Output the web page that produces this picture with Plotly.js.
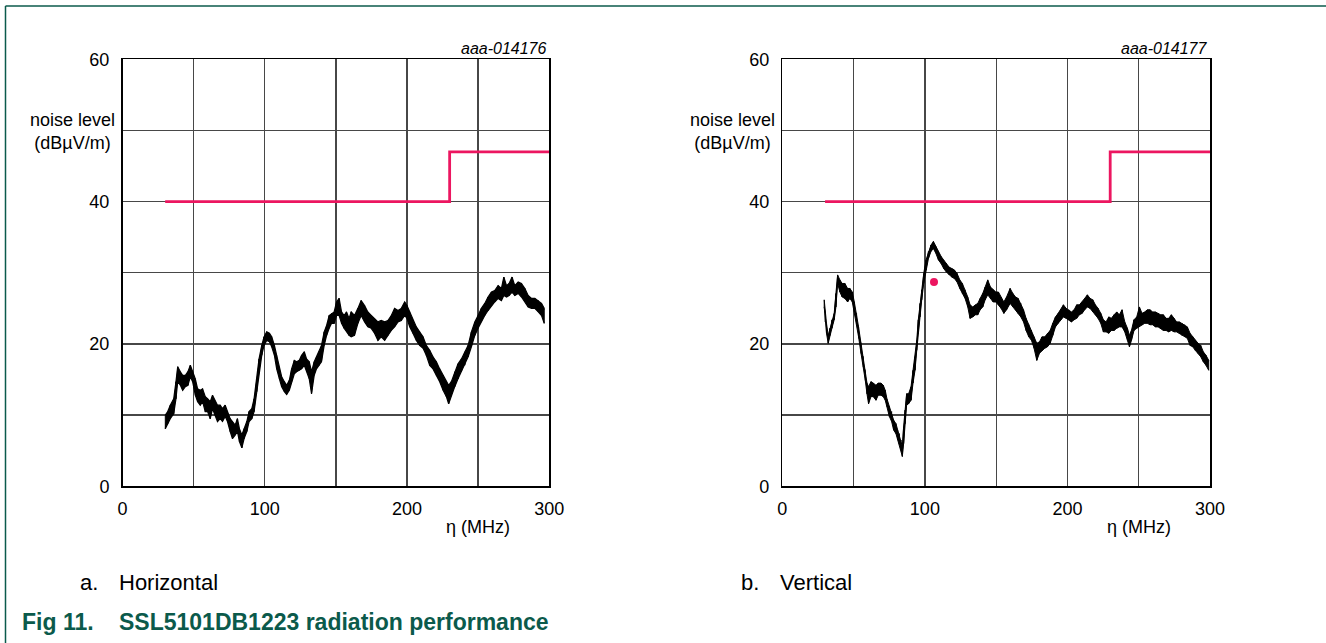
<!DOCTYPE html>
<html>
<head>
<meta charset="utf-8">
<script src="https://cdn.plot.ly/plotly-3.0.1.min.js"></script>
<style>
  html, body { margin: 0; padding: 0; background: #ffffff; }
  #chart { width: 1326px; height: 643px; }
</style>
</head>
<body>
<div id="chart"></div>
<script>
// ---------- data ----------
const xTickVals = [0, 50, 100, 150, 200, 250, 300];
const xTickText = ['0', '', '100', '', '200', '', '300'];
const yTickVals = [0, 10, 20, 30, 40, 50, 60];
const yTickText = ['0', '', '20', '', '40', '', '60'];

// CISPR limit line (dBuV/m)
const limitFreq = [30, 230, 230, 300];
const limitLevel = [40, 40, 47, 47];

// a. Horizontal: read noise band (upper / lower edge of the trace)
const hFreq = [30.1,31.8,33.6,36.0,37.6,38.8,40.7,42.3,44.2,46.0,47.7,49.3,51.2,52.8,54.7,56.3,58.2,59.8,61.7,63.3,
  65.2,66.8,68.7,70.3,72.2,73.8,75.7,77.3,79.2,80.8,82.2,83.9,85.5,87.4,89.0,90.9,92.5,94.4,96.0,97.9,
  99.5,101.4,103.3,104.9,106.8,108.4,110.3,111.9,113.8,115.4,117.3,118.9,120.8,122.4,124.3,125.9,127.8,129.4,131.3,132.9,
  134.8,136.4,138.3,139.9,141.8,143.5,145.3,147.0,148.8,150.5,152.3,154.0,155.8,157.5,159.3,
  160.8,163.1,165.5,167.8,170.2,172.5,174.9,177.2,179.6,181.9,184.3,186.6,189.0,191.3,193.7,196.0,198.4,200.0,201.9,204.2,
  206.6,208.9,211.3,213.6,216.0,218.3,220.7,223.0,225.4,227.7,229.3,231.2,233.6,235.9,238.3,240.6,243.0,245.3,247.7,250.0,
  252.3,254.7,257.0,259.4,261.7,264.1,266.4,268.1,270.0,271.8,273.9,275.8,278.2,280.5,282.9,285.2,287.6,289.9,292.3,294.6,296.5];
const hHigh = [10.0,10.5,11.4,12.3,14.7,16.8,16.1,15.6,15.6,16.1,17.0,16.1,15.1,13.7,13.5,13.7,12.6,12.3,11.9,12.8,
  11.9,11.4,11.4,10.9,11.4,10.5,9.5,9.1,8.6,9.5,8.1,7.2,8.1,9.1,10.5,10.9,12.3,15.1,17.9,19.8,
  21.0,21.7,21.5,21.0,19.8,18.4,16.5,15.4,14.7,14.2,14.9,16.5,17.7,17.5,17.7,18.4,18.9,17.9,17.5,16.1,
  17.5,18.2,18.9,19.8,21.7,22.6,24.0,24.3,24.5,25.9,26.4,24.5,24.0,24.5,23.6,
  24.5,24.0,25.0,26.1,25.4,24.5,24.0,23.6,23.1,23.3,23.1,23.3,24.0,25.0,24.7,25.0,25.9,25.4,24.5,23.3,
  22.4,21.7,21.0,19.8,19.1,18.2,17.5,16.5,15.6,14.7,14.2,14.7,16.1,17.2,17.9,18.9,19.8,21.7,23.1,24.0,
  25.0,25.7,26.6,27.3,27.5,28.2,27.8,29.4,28.2,28.5,29.4,28.2,28.7,28.5,27.8,26.8,26.4,26.4,26.1,25.7,25.0];
const hLow = [8.1,8.8,9.5,10.2,12.3,14.7,14.2,13.5,14.0,14.2,15.4,14.7,12.8,11.9,11.4,11.9,10.5,10.5,9.5,10.9,
  10.0,9.1,9.5,9.1,9.8,9.1,7.7,6.7,7.2,7.7,6.3,5.4,6.7,7.7,9.1,9.5,10.5,13.3,16.1,18.4,
  19.8,20.5,20.3,19.6,18.4,16.5,15.1,14.0,13.3,12.9,13.5,14.7,15.8,16.1,16.3,16.5,17.0,16.1,15.1,13.0,
  15.6,16.5,17.0,17.5,19.8,21.2,22.2,22.9,22.9,24.0,24.0,22.9,22.2,21.7,21.2,
  21.0,21.2,22.9,24.0,23.1,22.4,22.2,21.5,20.5,21.0,20.5,21.2,21.9,22.4,23.1,23.3,24.0,23.6,22.4,21.5,
  20.5,19.8,19.4,18.4,17.0,16.5,15.6,14.7,13.5,12.6,11.6,12.8,14.0,15.1,16.1,17.0,18.2,19.6,21.2,22.2,
  23.1,24.0,24.7,25.4,25.9,26.4,26.1,26.8,26.6,26.8,27.3,26.8,27.1,26.6,25.9,25.2,25.0,25.0,24.5,24.0,22.9];

// b. Vertical: read noise band (upper / lower edge of the trace)
const vFreq = [29.4,30.1,31.0,32.2,33.4,34.8,36.4,37.6,38.8,40.4,42.0,43.9,45.8,47.4,49.1,50.5,52.1,53.5,55.2,56.8,
  58.2,59.4,60.5,62.2,63.8,65.7,67.3,69.2,70.8,72.2,73.4,75.1,76.7,78.1,79.7,80.9,82.1,83.3,84.2,85.1,
  86.1,87.2,88.6,90.3,91.7,93.1,94.3,95.4,96.6,97.8,99.2,100.8,102.5,104.3,106.0,107.8,109.5,111.4,113.2,115.1,
  117.0,118.9,120.7,122.6,124.5,126.3,128.2,130.1,131.7,133.6,135.5,137.1,138.8,140.6,142.3,144.1,146.0,147.9,149.8,151.6,
  153.5,155.4,157.3,
  159.8,161.7,163.6,165.4,167.3,169.2,171.0,172.9,174.8,176.6,178.5,180.4,182.2,184.1,186.0,187.9,189.7,191.6,193.5,195.3,
  197.2,199.1,200.9,202.8,204.7,206.5,208.4,210.3,212.1,214.0,215.9,217.8,219.6,221.5,223.4,225.2,227.1,229.0,230.8,232.7,
  234.6,236.4,238.3,240.2,242.1,243.5,244.9,246.7,248.6,250.5,252.3,254.2,256.1,257.9,259.8,261.7,263.6,265.4,267.3,269.2,
  271.0,272.9,274.8,276.6,278.5,280.4,282.2,284.1,286.0,287.9,289.7,291.6,293.5,295.3,297.2,299.1];
const vHigh = [26.2,24.3,22.9,21.2,22.2,23.4,24.3,27.1,29.7,29.0,28.5,28.5,27.8,27.8,27.3,25.9,24.3,22.4,20.1,18.2,
  16.3,14.5,14.0,14.7,14.5,14.2,14.5,14.5,14.2,13.5,12.3,11.2,10.5,9.3,8.8,7.9,7.4,6.5,5.6,8.4,
  10.7,13.0,13.0,14.0,16.3,18.2,20.5,23.4,25.7,27.6,29.9,31.8,33.0,33.9,34.4,33.7,33.0,32.3,31.8,31.3,
  30.8,30.6,30.4,29.9,29.0,28.5,27.6,26.6,25.5,25.2,25.5,25.7,26.4,27.1,28.0,29.0,28.0,27.6,27.3,27.3,
  26.6,25.9,26.6,
  27.8,27.1,26.6,26.4,25.7,24.8,23.6,22.7,21.9,21.0,20.1,20.3,21.0,21.0,21.5,21.9,22.9,23.8,24.3,24.8,
  25.5,25.0,24.8,24.5,24.8,25.5,25.5,25.9,26.4,26.9,26.4,26.2,25.5,25.0,24.3,23.4,23.1,23.8,23.6,24.1,
  24.5,24.1,24.8,23.1,22.2,21.2,21.9,23.4,23.8,25.2,24.3,24.5,24.8,24.8,24.5,24.5,24.3,24.1,24.1,23.6,
  23.6,24.1,23.6,23.1,23.1,22.9,22.7,22.4,21.5,21.0,20.5,20.1,19.8,18.9,18.4,17.7];
const vLow = [25.2,23.1,21.5,20.1,21.2,22.2,23.4,25.2,28.5,27.3,26.6,26.4,25.9,26.4,25.9,24.5,22.9,21.0,18.7,16.8,
  14.9,13.0,11.6,12.6,12.6,12.1,12.8,12.8,12.6,12.1,11.2,9.8,9.1,7.9,7.4,6.5,6.0,5.1,4.2,6.0,
  8.8,11.4,11.6,12.1,14.5,16.3,19.1,21.5,23.8,26.2,28.5,30.4,32.0,33.0,33.4,32.7,31.8,31.3,30.6,30.1,
  29.7,29.4,29.2,28.7,27.8,27.1,26.4,25.2,23.6,23.8,24.1,24.1,24.8,25.2,26.2,26.9,26.4,25.9,25.9,25.5,
  25.0,24.3,24.8,
  25.7,25.2,24.8,24.3,23.8,23.1,21.9,21.0,20.5,19.4,17.7,18.7,19.1,19.4,19.6,20.1,21.2,22.4,22.9,23.4,
  23.8,23.6,23.4,23.1,23.4,23.6,24.1,24.3,24.8,25.2,25.0,24.5,24.1,23.6,22.9,21.7,21.7,21.5,21.9,21.9,
  22.2,22.4,22.4,21.7,20.5,19.6,20.5,21.9,22.2,22.4,22.7,22.9,22.9,22.7,22.7,22.4,22.4,22.2,21.9,21.9,
  21.7,21.9,21.7,21.7,21.5,21.2,21.0,20.8,19.8,19.6,19.1,18.7,18.2,17.5,17.0,16.3];

// marker on vertical plot
const dotFreq = [106.4];
const dotLevel = [28.7];

// ---------- styling ----------
const PINK = '#ec1660';
const GREEN = '#0b5a4b';
const FONT = 'Liberation Sans, Arial, Helvetica, sans-serif';
const W = 1326, H = 643;
const px = v => v / W;          // pixel -> paper x
const py = v => 1 - v / H;      // pixel -> paper y

// noisy trace drawn as a filled band between the read lower and upper edges,
// plus a zig-zag through the same readings for the jagged texture
function bandTraces(f, hi, lo, xa, ya, w) {
  const zx = [], zy = [];
  for (let i = 0; i < f.length; i++) { zx.push(f[i], f[i]); zy.push(hi[i], lo[i]); }
  return [
    {x: f, y: lo, xaxis: xa, yaxis: ya, mode: 'lines', line: {color: '#000000', width: w}, hoverinfo: 'skip'},
    {x: f, y: hi, xaxis: xa, yaxis: ya, mode: 'lines', line: {color: '#000000', width: w},
     fill: 'tonexty', fillcolor: '#000000', hoverinfo: 'skip'},
    {x: zx, y: zy, xaxis: xa, yaxis: ya, mode: 'lines', line: {color: '#000000', width: 1}, hoverinfo: 'skip'}
  ];
}

const traces = [
  {x: limitFreq, y: limitLevel, xaxis: 'x', yaxis: 'y', mode: 'lines',
   line: {color: PINK, width: 2.8}, hoverinfo: 'skip', cliponaxis: false},
  ...bandTraces(hFreq, hHigh, hLow, 'x', 'y', 1.2),
  {x: limitFreq, y: limitLevel, xaxis: 'x2', yaxis: 'y2', mode: 'lines',
   line: {color: PINK, width: 2.8}, hoverinfo: 'skip', cliponaxis: false},
  ...bandTraces(vFreq, vHigh, vLow, 'x2', 'y2', 1.0),
  {x: dotFreq, y: dotLevel, xaxis: 'x2', yaxis: 'y2', mode: 'markers',
   marker: {color: PINK, size: 8}, hoverinfo: 'skip'}
];

function xAx(d0, d1, anchor) {
  return {domain: [px(d0), px(d1)], range: [0, 300], tickmode: 'array', anchor: anchor,
    tickvals: xTickVals, ticktext: xTickText, showgrid: true, gridcolor: '#474747', gridwidth: 1.3,
    zeroline: false, showline: true, linecolor: '#000000', linewidth: 1.5, mirror: true,
    ticks: '', ticklabelstandoff: 6, tickfont: {family: FONT, size: 18, color: '#000000'}, fixedrange: true};
}
function yAx(anchor) {
  return {domain: [py(486.3), py(59.3)], range: [0, 60], tickmode: 'array', anchor: anchor,
    tickvals: yTickVals, ticktext: yTickText, showgrid: true, gridcolor: '#474747', gridwidth: 1.3,
    zeroline: false, showline: true, linecolor: '#000000', linewidth: 1.5, mirror: true,
    ticks: '', ticklabelstandoff: 8, tickfont: {family: FONT, size: 18, color: '#000000'}, fixedrange: true};
}

const txt = (size, color) => ({family: FONT, size: size, color: color || '#000000'});

const annotations = [
  {xref: 'paper', yref: 'paper', x: px(72), y: py(131), text: 'noise level<br>(dBµV/m)', showarrow: false,
   xanchor: 'center', yanchor: 'middle', align: 'center', font: txt(18)},
  {xref: 'paper', yref: 'paper', x: px(732), y: py(131), text: 'noise level<br>(dBµV/m)', showarrow: false,
   xanchor: 'center', yanchor: 'middle', align: 'center', font: txt(18)},
  {xref: 'x', yref: 'paper', x: 250, y: py(527), text: 'η (MHz)', showarrow: false,
   xanchor: 'center', yanchor: 'middle', font: txt(18)},
  {xref: 'x2', yref: 'paper', x: 250, y: py(527), text: 'η (MHz)', showarrow: false,
   xanchor: 'center', yanchor: 'middle', font: txt(18)},
  {xref: 'x', yref: 'paper', x: 300, y: py(48), text: '<i>aaa-014176</i>', showarrow: false,
   xanchor: 'right', yanchor: 'middle', font: txt(16)},
  {xref: 'x2', yref: 'paper', x: 300, y: py(48), text: '<i>aaa-014177</i>', showarrow: false,
   xanchor: 'right', yanchor: 'middle', font: txt(16)},
  {xref: 'paper', yref: 'paper', x: px(78), y: py(582), text: 'a.', showarrow: false,
   xanchor: 'left', yanchor: 'middle', font: txt(22)},
  {xref: 'paper', yref: 'paper', x: px(117), y: py(582), text: 'Horizontal', showarrow: false,
   xanchor: 'left', yanchor: 'middle', font: txt(22)},
  {xref: 'paper', yref: 'paper', x: px(739), y: py(582), text: 'b.', showarrow: false,
   xanchor: 'left', yanchor: 'middle', font: txt(22)},
  {xref: 'paper', yref: 'paper', x: px(778), y: py(582), text: 'Vertical', showarrow: false,
   xanchor: 'left', yanchor: 'middle', font: txt(22)},
  {xref: 'paper', yref: 'paper', x: px(20), y: py(622), text: '<b>Fig 11.</b>', showarrow: false,
   xanchor: 'left', yanchor: 'middle', font: txt(23, GREEN)},
  {xref: 'paper', yref: 'paper', x: px(117), y: py(622), text: '<b>SSL5101DB1223 radiation performance</b>', showarrow: false,
   xanchor: 'left', yanchor: 'middle', font: txt(23, GREEN)}
];

const shapes = [
  {type: 'line', xref: 'paper', yref: 'paper', x0: px(5.5), x1: px(5.5), y0: 0, y1: py(6), line: {color: GREEN, width: 1.5}},
  {type: 'line', xref: 'paper', yref: 'paper', x0: px(5.5), x1: 1, y0: py(6), y1: py(6), line: {color: GREEN, width: 1.5}}
];

const layout = {
  width: W, height: H, margin: {l: 0, r: 0, t: 0, b: 0},
  paper_bgcolor: '#ffffff', plot_bgcolor: '#ffffff', showlegend: false,
  font: {family: FONT, color: '#000000'},
  xaxis: xAx(122.5, 549.2, 'y'), yaxis: yAx('x'),
  xaxis2: xAx(782.3, 1210, 'y2'), yaxis2: yAx('x2'),
  annotations: annotations, shapes: shapes
};

Plotly.newPlot('chart', traces, layout, {displayModeBar: false, staticPlot: true});
</script>
</body>
</html>
